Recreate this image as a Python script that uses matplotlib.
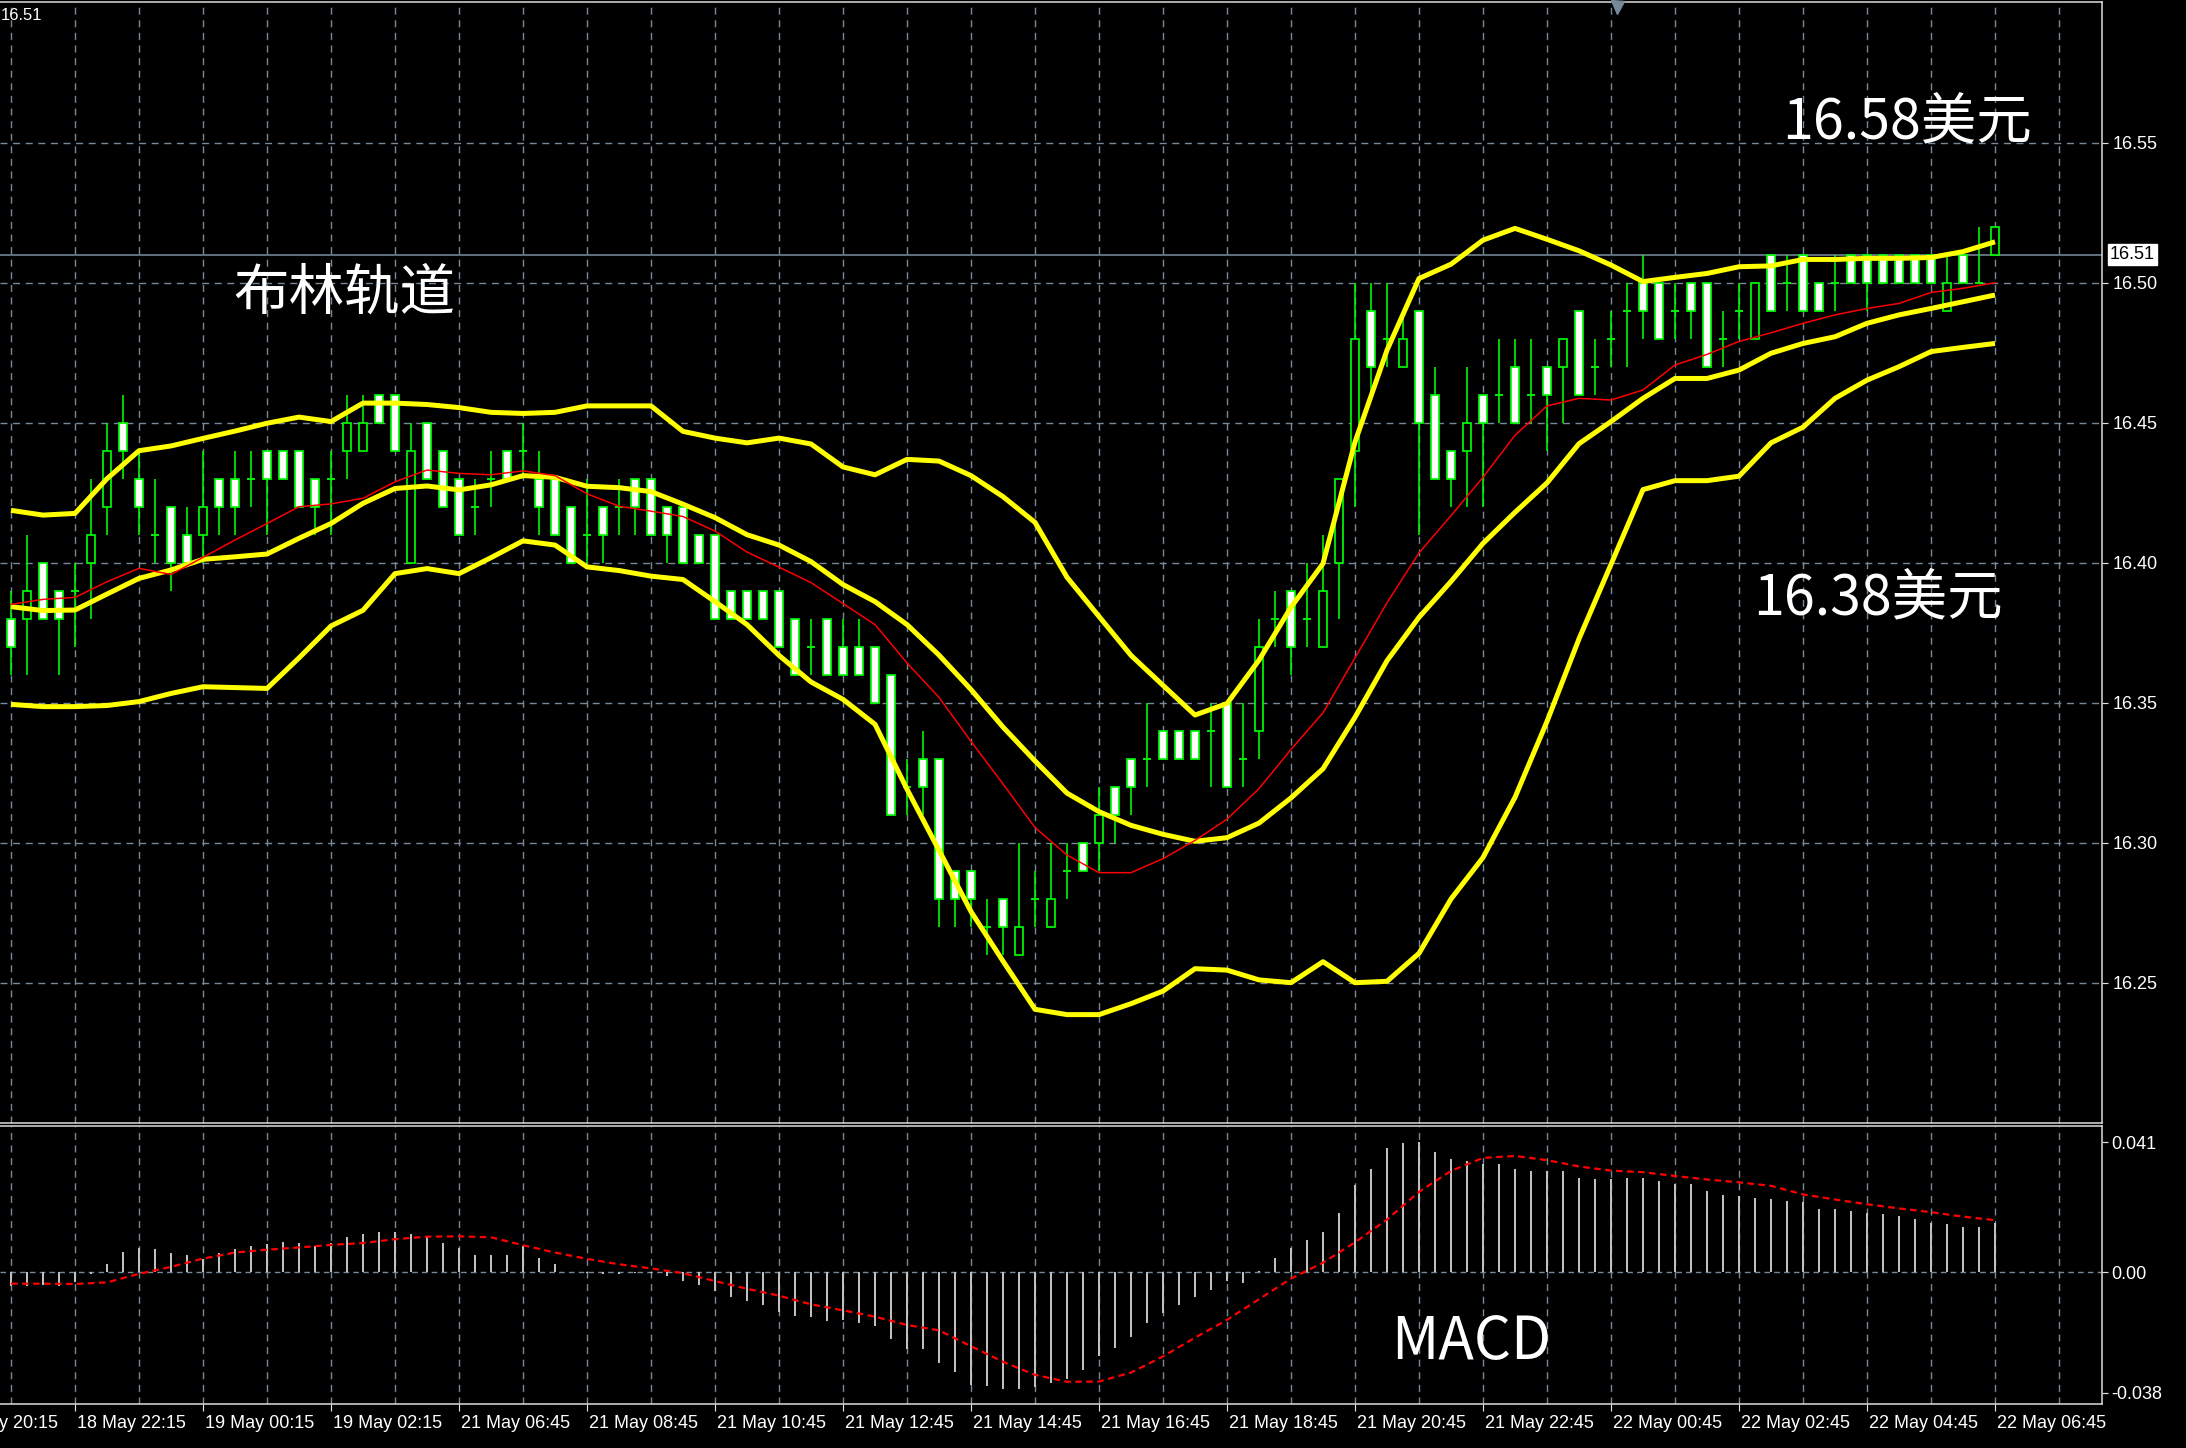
import numpy as np
import matplotlib.pyplot as plt
import matplotlib.transforms as mtransforms
from matplotlib.patches import Rectangle
from matplotlib import font_manager as fm

plt.rcParams['font.family'] = ['Noto Sans CJK SC', 'DejaVu Sans']
names = {f.name for f in fm.fontManager.ttflist}
axis_font = 'Liberation Sans' if 'Liberation Sans' in names else 'DejaVu Sans'

# ---- candles (M15 bars) ----
opens = [16.38, 16.38, 16.40, 16.39, 16.39, 16.40, 16.42, 16.45, 16.43, 16.41,
         16.42, 16.41, 16.41, 16.43, 16.43, 16.43, 16.44, 16.44, 16.44, 16.43,
         16.43, 16.44, 16.44, 16.46, 16.46, 16.40, 16.45, 16.44, 16.43, 16.42,
         16.43, 16.44, 16.44, 16.43, 16.43, 16.42, 16.41, 16.42, 16.42, 16.43,
         16.43, 16.42, 16.42, 16.41, 16.41, 16.39, 16.39, 16.39, 16.39, 16.38,
         16.37, 16.38, 16.37, 16.37, 16.37, 16.36, 16.32, 16.33, 16.33, 16.29,
         16.29, 16.27, 16.28, 16.26, 16.28, 16.27, 16.29, 16.30, 16.30, 16.32,
         16.33, 16.33, 16.34, 16.34, 16.34, 16.34, 16.35, 16.33, 16.34, 16.38,
         16.39, 16.38, 16.37, 16.40, 16.44, 16.49, 16.48, 16.47, 16.49, 16.46,
         16.44, 16.44, 16.46, 16.46, 16.47, 16.46, 16.47, 16.47, 16.49, 16.47,
         16.48, 16.49, 16.50, 16.50, 16.49, 16.50, 16.50, 16.48, 16.49, 16.48,
         16.51, 16.50, 16.51, 16.50, 16.50, 16.51, 16.51, 16.51, 16.51, 16.51,
         16.51, 16.49, 16.51, 16.50, 16.51]
highs = [16.39, 16.41, 16.40, 16.39, 16.40, 16.43, 16.45, 16.46, 16.44, 16.43,
         16.42, 16.42, 16.44, 16.43, 16.44, 16.44, 16.44, 16.44, 16.44, 16.43,
         16.44, 16.46, 16.46, 16.46, 16.46, 16.45, 16.45, 16.44, 16.43, 16.43,
         16.44, 16.44, 16.45, 16.44, 16.43, 16.42, 16.43, 16.42, 16.43, 16.43,
         16.43, 16.42, 16.42, 16.41, 16.41, 16.39, 16.39, 16.39, 16.39, 16.38,
         16.38, 16.38, 16.38, 16.38, 16.37, 16.36, 16.33, 16.34, 16.33, 16.29,
         16.29, 16.28, 16.28, 16.30, 16.29, 16.30, 16.30, 16.30, 16.32, 16.32,
         16.33, 16.35, 16.34, 16.34, 16.34, 16.35, 16.35, 16.35, 16.38, 16.39,
         16.39, 16.40, 16.41, 16.43, 16.50, 16.50, 16.50, 16.49, 16.49, 16.47,
         16.44, 16.47, 16.46, 16.48, 16.48, 16.48, 16.47, 16.48, 16.49, 16.48,
         16.49, 16.50, 16.51, 16.50, 16.50, 16.50, 16.50, 16.49, 16.50, 16.50,
         16.51, 16.51, 16.51, 16.50, 16.51, 16.51, 16.51, 16.51, 16.51, 16.51,
         16.51, 16.51, 16.51, 16.52, 16.52]
lows = [16.36, 16.36, 16.38, 16.36, 16.37, 16.38, 16.41, 16.43, 16.41, 16.40,
        16.39, 16.40, 16.40, 16.41, 16.41, 16.42, 16.41, 16.43, 16.42, 16.41,
        16.41, 16.43, 16.44, 16.45, 16.44, 16.40, 16.43, 16.42, 16.41, 16.41,
        16.42, 16.43, 16.43, 16.41, 16.41, 16.40, 16.40, 16.40, 16.41, 16.41,
        16.41, 16.40, 16.40, 16.40, 16.38, 16.38, 16.38, 16.38, 16.37, 16.36,
        16.36, 16.36, 16.36, 16.36, 16.35, 16.31, 16.31, 16.31, 16.27, 16.27,
        16.27, 16.26, 16.26, 16.26, 16.27, 16.27, 16.28, 16.29, 16.29, 16.30,
        16.31, 16.32, 16.33, 16.33, 16.33, 16.32, 16.32, 16.32, 16.33, 16.37,
        16.36, 16.37, 16.37, 16.38, 16.42, 16.46, 16.47, 16.47, 16.41, 16.43,
        16.42, 16.42, 16.42, 16.45, 16.45, 16.45, 16.44, 16.45, 16.46, 16.46,
        16.47, 16.47, 16.48, 16.48, 16.48, 16.48, 16.47, 16.47, 16.48, 16.48,
        16.49, 16.49, 16.49, 16.49, 16.49, 16.50, 16.49, 16.50, 16.50, 16.50,
        16.50, 16.49, 16.50, 16.50, 16.51]
closes = [16.37, 16.39, 16.38, 16.38, 16.39, 16.41, 16.44, 16.44, 16.42, 16.41,
          16.40, 16.40, 16.42, 16.42, 16.42, 16.43, 16.43, 16.43, 16.42, 16.42,
          16.43, 16.45, 16.45, 16.45, 16.44, 16.44, 16.43, 16.42, 16.41, 16.42,
          16.43, 16.43, 16.44, 16.42, 16.41, 16.40, 16.41, 16.41, 16.42, 16.42,
          16.41, 16.41, 16.40, 16.40, 16.38, 16.38, 16.38, 16.38, 16.37, 16.36,
          16.37, 16.36, 16.36, 16.36, 16.35, 16.31, 16.32, 16.32, 16.28, 16.28,
          16.28, 16.27, 16.27, 16.27, 16.28, 16.28, 16.29, 16.29, 16.31, 16.31,
          16.32, 16.33, 16.33, 16.33, 16.33, 16.34, 16.32, 16.33, 16.37, 16.38,
          16.37, 16.38, 16.39, 16.43, 16.48, 16.47, 16.48, 16.48, 16.45, 16.43,
          16.43, 16.45, 16.45, 16.46, 16.45, 16.46, 16.46, 16.48, 16.46, 16.47,
          16.48, 16.49, 16.49, 16.48, 16.49, 16.49, 16.47, 16.48, 16.49, 16.50,
          16.49, 16.50, 16.49, 16.49, 16.50, 16.50, 16.50, 16.50, 16.50, 16.50,
          16.50, 16.50, 16.50, 16.50, 16.52]

# ---- indicator lines, read every 2nd bar ----
line_x = list(range(0, 125, 2))
bb_upper = [16.4187, 16.4170, 16.4176, 16.4300, 16.4400, 16.4417, 16.4444, 16.4470,
            16.4498, 16.4520, 16.4504, 16.4570, 16.4570, 16.4565, 16.4554, 16.4537,
            16.4533, 16.4537, 16.4560, 16.4560, 16.4560, 16.4469, 16.4445, 16.4428,
            16.4445, 16.4424, 16.4342, 16.4314, 16.4369, 16.4363, 16.4311, 16.4236,
            16.4144, 16.3948, 16.3808, 16.3669, 16.3562, 16.3456, 16.3497, 16.3652,
            16.3841, 16.3997, 16.4431, 16.4759, 16.5015, 16.5066, 16.5152, 16.5194,
            16.5155, 16.5114, 16.5063, 16.5004, 16.5019, 16.5033, 16.5057, 16.5060,
            16.5083, 16.5083, 16.5087, 16.5087, 16.5090, 16.5111, 16.5146]
bb_middle = [16.3843, 16.3829, 16.3831, 16.3888, 16.3944, 16.3974, 16.4012, 16.4021,
             16.4031, 16.4087, 16.4140, 16.4212, 16.4265, 16.4274, 16.4260, 16.4278,
             16.4311, 16.4305, 16.4273, 16.4268, 16.4254, 16.4209, 16.4161, 16.4100,
             16.4063, 16.4004, 16.3922, 16.3861, 16.3779, 16.3670, 16.3547, 16.3413,
             16.3292, 16.3177, 16.3111, 16.3062, 16.3030, 16.3005, 16.3018, 16.3070,
             16.3160, 16.3264, 16.3448, 16.3650, 16.3805, 16.3933, 16.4069, 16.4180,
             16.4285, 16.4425, 16.4504, 16.4587, 16.4658, 16.4658, 16.4688, 16.4748,
             16.4783, 16.4807, 16.4855, 16.4885, 16.4908, 16.4932, 16.4956]
bb_lower = [16.3494, 16.3486, 16.3486, 16.3490, 16.3504, 16.3533, 16.3557, 16.3554,
            16.3551, 16.3660, 16.3774, 16.3830, 16.3961, 16.3979, 16.3961, 16.4018,
            16.4078, 16.4063, 16.3985, 16.3972, 16.3952, 16.3940, 16.3861, 16.3779,
            16.3669, 16.3574, 16.3512, 16.3423, 16.3191, 16.2973, 16.2754, 16.2577,
            16.2405, 16.2386, 16.2386, 16.2425, 16.2470, 16.2550, 16.2545, 16.2510,
            16.2500, 16.2575, 16.2500, 16.2505, 16.2605, 16.2799, 16.2947, 16.3162,
            16.3433, 16.3728, 16.3994, 16.4261, 16.4293, 16.4293, 16.4309, 16.4428,
            16.4484, 16.4587, 16.4652, 16.4700, 16.4754, 16.4769, 16.4783]
ma_red = [16.3851, 16.3869, 16.3876, 16.3932, 16.3980, 16.3958, 16.4019, 16.4081,
          16.4140, 16.4200, 16.4210, 16.4230, 16.4289, 16.4331, 16.4319, 16.4314,
          16.4328, 16.4311, 16.4246, 16.4202, 16.4184, 16.4165, 16.4113, 16.4038,
          16.3984, 16.3929, 16.3854, 16.3779, 16.3642, 16.3519, 16.3362, 16.3210,
          16.3054, 16.2956, 16.2893, 16.2893, 16.2943, 16.3008, 16.3084, 16.3193,
          16.3333, 16.3464, 16.3660, 16.3857, 16.4035, 16.4168, 16.4305, 16.4455,
          16.4560, 16.4587, 16.4581, 16.4617, 16.4706, 16.4744, 16.4790, 16.4821,
          16.4855, 16.4885, 16.4908, 16.4926, 16.4965, 16.4980, 16.5000]

# ---- MACD ----
macd_hist = [-0.0044, -0.0042, -0.0039, -0.0042, -0.0030, -0.0007, 0.0027, 0.0064, 0.0075, 0.0072,
             0.0059, 0.0053, 0.0043, 0.0061, 0.0074, 0.0084, 0.0090, 0.0096, 0.0091, 0.0082,
             0.0091, 0.0111, 0.0121, 0.0127, 0.0127, 0.0121, 0.0112, 0.0091, 0.0075, 0.0053,
             0.0053, 0.0053, 0.0084, 0.0046, 0.0027, 0.0002, -0.0004, -0.0007, -0.0006, -0.0002,
             -0.0003, -0.0013, -0.0028, -0.0041, -0.0060, -0.0078, -0.0092, -0.0102, -0.0126, -0.0137,
             -0.0141, -0.0155, -0.0150, -0.0160, -0.0168, -0.0211, -0.0242, -0.0242, -0.0286, -0.0313,
             -0.0355, -0.0357, -0.0369, -0.0369, -0.0362, -0.0350, -0.0337, -0.0307, -0.0265, -0.0239,
             -0.0204, -0.0160, -0.0128, -0.0104, -0.0078, -0.0055, -0.0028, -0.0034, 0.0003, 0.0045,
             0.0077, 0.0103, 0.0127, 0.0185, 0.0274, 0.0324, 0.0390, 0.0406, 0.0409, 0.0377,
             0.0356, 0.0351, 0.0340, 0.0340, 0.0324, 0.0319, 0.0319, 0.0319, 0.0298, 0.0293,
             0.0293, 0.0298, 0.0298, 0.0287, 0.0277, 0.0277, 0.0256, 0.0242, 0.0240, 0.0235,
             0.0232, 0.0224, 0.0221, 0.0200, 0.0198, 0.0193, 0.0187, 0.0182, 0.0177, 0.0168,
             0.0156, 0.0151, 0.0143, 0.0143, 0.0154]
macd_signal = [-0.0036, -0.0036, -0.0037, -0.0032, -0.0005, 0.0017, 0.0043, 0.0062,
               0.0071, 0.0078, 0.0086, 0.0092, 0.0104, 0.0112, 0.0113, 0.0110,
               0.0085, 0.0062, 0.0042, 0.0025, 0.0012, -0.0003, -0.0028, -0.0052,
               -0.0074, -0.0101, -0.0120, -0.0140, -0.0166, -0.0183, -0.0233, -0.0282,
               -0.0323, -0.0345, -0.0344, -0.0316, -0.0265, -0.0206, -0.0150, -0.0085,
               -0.0020, 0.0030, 0.0094, 0.0166, 0.0253, 0.0319, 0.0360, 0.0366,
               0.0353, 0.0333, 0.0320, 0.0315, 0.0303, 0.0292, 0.0283, 0.0272,
               0.0245, 0.0229, 0.0214, 0.0201, 0.0189, 0.0175, 0.0164]

tick_bars = list(range(-4, 125, 8))
tick_labels = ['18 May 20:15', '18 May 22:15', '19 May 00:15', '19 May 02:15',
               '21 May 06:45', '21 May 08:45', '21 May 10:45', '21 May 12:45',
               '21 May 14:45', '21 May 16:45', '21 May 18:45', '21 May 20:45',
               '21 May 22:45', '22 May 00:45', '22 May 02:45', '22 May 04:45',
               '22 May 06:45']
price_ticks = [16.25, 16.30, 16.35, 16.40, 16.45, 16.50, 16.55]
last_price = 16.51

W, H = 2186, 1448
fig = plt.figure(figsize=(W / 100, H / 100), dpi=100, facecolor='black')


def box(x0, y0, x1, y1):
    return [x0 / W, 1 - y1 / H, (x1 - x0) / W, (y1 - y0) / H]


lime = '#00FF00'
gridc = '#778899'
px = 0.72  # points per pixel

ax = fig.add_axes(box(0, 2, 2102, 1123))
ax2 = fig.add_axes(box(0, 1126, 2102, 1404), sharex=ax)
for a in (ax, ax2):
    a.set_facecolor('black')
    for s in a.spines.values():
        s.set_color('#E0E0E0')
        s.set_linewidth(1.5 * px)
    a.spines['left'].set_visible(False)
    for b in range(0, 131, 4):
        a.axvline(b, color=gridc, lw=1.4 * px, ls=(0, (5, 4)), zorder=0)

ax.set_xlim(-11 / 16, (2102 - 11) / 16)
ax.set_ylim(16.50 - (1123 - 282.7) / 2800, 16.50 + (282.7 - 2) / 2800)
for p in price_ticks:
    ax.axhline(p, color=gridc, lw=1.4 * px, ls=(0, (5, 4)), zorder=0)
ax.axhline(last_price, color=gridc, lw=1.6 * px, zorder=1)

# candles
bars = np.arange(len(opens))
ax.vlines(bars, lows, highs, color=lime, lw=1.6 * px, zorder=3)
bw = 0.44
for i in bars:
    o, c = opens[i], closes[i]
    if o == c:
        ax.hlines(c, i - 0.28, i + 0.28, color=lime, lw=1.8 * px, zorder=4)
    else:
        fc = 'white' if c < o else 'black'
        ax.add_patch(Rectangle((i - bw / 2, min(o, c)), bw, abs(c - o), facecolor=fc,
                               edgecolor=lime, lw=1.7 * px, zorder=4))

# bollinger bands and moving average
for band in (bb_upper, bb_middle, bb_lower):
    ax.plot(line_x, band, color='#FFFF00', lw=5 * px, solid_capstyle='butt', zorder=5)
ax.plot(line_x, ma_red, color='#FF0000', lw=1.5 * px, zorder=6)

ax.yaxis.tick_right()
ax.set_yticks(price_ticks)
ax.set_yticklabels(['%.2f' % p for p in price_ticks])
ax.tick_params(axis='y', colors='#E0E0E0', length=6 * px, width=1.2 * px, pad=5 * px,
               labelsize=13, labelcolor='white')
for t in ax.get_yticklabels():
    t.set_family(axis_font)
ax.tick_params(axis='x', bottom=False, labelbottom=False)

yx = mtransforms.blended_transform_factory(ax.transAxes, ax.transData)
ax.text(1 + 8 / 2102, last_price, '16.51', transform=yx, ha='left', va='center', fontsize=13,
        family=axis_font, color='black',
        bbox=dict(boxstyle='square,pad=0.12', fc='white', ec='white'))
ax.plot([1617 / 2102], [1 - 5 / 1121], marker='v', ms=13 * px, color=gridc,
        transform=ax.transAxes, clip_on=False, zorder=7)

# MACD panel
ax2.set_ylim(-131.3 * 0.000316, 145.7 * 0.000316)
ax2.axhline(0, color=gridc, lw=1.4 * px, ls=(0, (4, 3)), zorder=0)
ax2.vlines(bars, 0, macd_hist, color='#C0C0C0', lw=2 * px, zorder=2)
ax2.plot(line_x, macd_signal, color='#FF0000', lw=2.2 * px, ls=(0, (3, 2)), zorder=3)
ax2.yaxis.tick_right()
ax2.set_yticks([0.041, 0.0, -0.038])
ax2.set_yticklabels(['0.041', '0.00', '-0.038'])
ax2.tick_params(axis='y', colors='#E0E0E0', length=6 * px, width=1.2 * px, pad=3 * px,
                labelsize=13, labelcolor='white')
for t in ax2.get_yticklabels():
    t.set_family(axis_font)
ax2.set_xticks([b for b in tick_bars if b >= 0])
ax2.tick_params(axis='x', colors='#E0E0E0', length=7 * px, width=1.2 * px, labelbottom=False)

xt = mtransforms.blended_transform_factory(ax2.transData, ax2.transAxes)
for b, lab in zip(tick_bars, tick_labels):
    ax2.text(b + 0.1, -19 / 278, lab, transform=xt, ha='left', va='center', fontsize=13,
             family=axis_font, color='white', clip_on=False)

# annotations
fig.text(1 / W, 1 - 16 / H, '16.51', ha='left', va='center', fontsize=12, family=axis_font,
         color='white')
fig.text(344 / W, 1 - 294 / H, '布林轨道', ha='center', va='center', fontsize=40,
         weight='light', color='white')
fig.text(1907 / W, 1 - 123 / H, '16.58美元', ha='center', va='center', fontsize=40,
         weight='light', color='white')
fig.text(1878 / W, 1 - 599 / H, '16.38美元', ha='center', va='center', fontsize=40,
         weight='light', color='white')
fig.text(1471 / W, 1 - 1343 / H, 'MACD', ha='center', va='center', fontsize=42,
         weight='light', color='white')

fig.savefig('out.png', dpi=100, facecolor='black')
